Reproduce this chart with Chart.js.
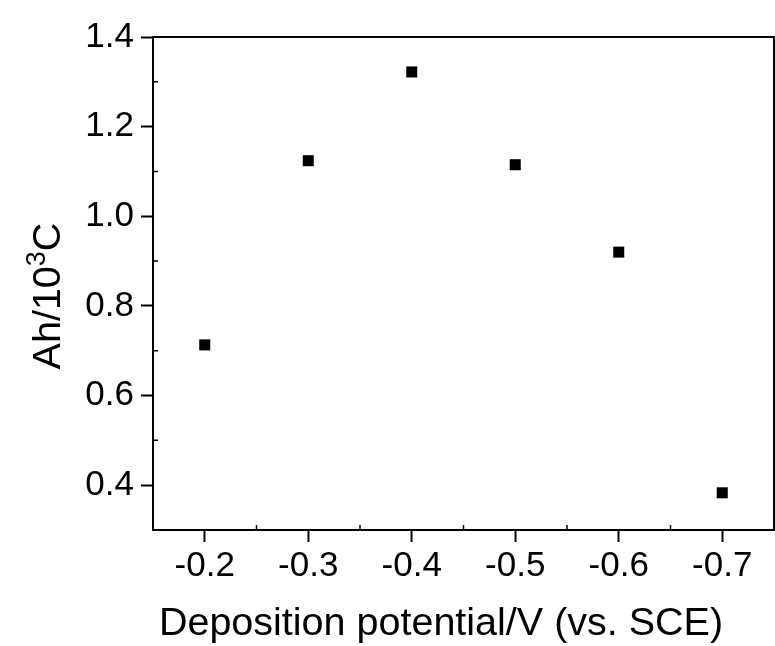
<!DOCTYPE html>
<html>
<head>
<meta charset="utf-8">
<script src="https://cdn.jsdelivr.net/npm/chart.js@4/dist/chart.umd.min.js"></script>
<style>
  html, body { margin: 0; padding: 0; background: #fff; }
  #wrap { width: 775px; height: 646px; }
</style>
</head>
<body>
<div id="wrap"><canvas id="c" width="775" height="646"></canvas></div>
<script>
// Data
const potentials = [-0.2, -0.3, -0.4, -0.5, -0.6, -0.7];
const ahValues = [0.713, 1.124, 1.322, 1.115, 0.920, 0.383];
const xTickValues = [-0.2, -0.3, -0.4, -0.5, -0.6, -0.7];
const yTickValues = [0.4, 0.6, 0.8, 1.0, 1.2, 1.4];
const xMinorValues = [-0.15, -0.25, -0.35, -0.45, -0.55, -0.65, -0.75];
const yMinorValues = [0.3, 0.5, 0.7, 0.9, 1.1, 1.3];
const xTitle = 'Deposition potential/V (vs. SCE)';
const yTitleParts = ['Ah/10', '3', 'C'];

const FONT = "'Liberation Sans', Arial, sans-serif";

const framePlugin = {
  id: 'frame',
  afterDraw(chart) {
    const ctx = chart.ctx;
    const a = chart.chartArea;
    const xs = chart.scales.x, ys = chart.scales.y;
    ctx.save();
    ctx.strokeStyle = '#000';
    ctx.lineWidth = 2;
    ctx.beginPath();
    ctx.moveTo(a.left - 1, a.top);
    ctx.lineTo(a.right, a.top);
    ctx.lineTo(a.right, a.bottom + 1);
    ctx.stroke();
    // minor ticks (inward)
    ctx.lineWidth = 1.5;
    ctx.beginPath();
    xMinorValues.forEach(v => {
      const px = xs.getPixelForValue(v);
      if (px > a.left + 2 && px < a.right - 2) {
        ctx.moveTo(px, a.bottom);
        ctx.lineTo(px, a.bottom - 5);
      }
    });
    yMinorValues.forEach(v => {
      const py = ys.getPixelForValue(v);
      if (py > a.top + 2 && py < a.bottom - 2) {
        ctx.moveTo(a.left, py);
        ctx.lineTo(a.left + 5, py);
      }
    });
    ctx.stroke();
    // titles
    ctx.fillStyle = '#000';
    ctx.font = '39.5px ' + FONT;
    ctx.textAlign = 'center';
    ctx.textBaseline = 'alphabetic';
    ctx.fillText(xTitle, 441, 635);

    ctx.translate(60, 296);
    ctx.rotate(-Math.PI / 2);
    ctx.textAlign = 'left';
    const bigFont = '39.5px ' + FONT, supFont = '27px ' + FONT;
    ctx.font = bigFont;
    const w0 = ctx.measureText(yTitleParts[0]).width;
    const w2 = ctx.measureText(yTitleParts[2]).width;
    ctx.font = supFont;
    const w1 = ctx.measureText(yTitleParts[1]).width;
    let x = -(w0 + w1 + w2) / 2;
    ctx.font = bigFont;
    ctx.fillText(yTitleParts[0], x, 0);
    x += w0;
    ctx.font = supFont;
    ctx.fillText(yTitleParts[1], x, -15);
    x += w1;
    ctx.font = bigFont;
    ctx.fillText(yTitleParts[2], x, 0);
    ctx.restore();
  }
};

new Chart(document.getElementById('c'), {
  type: 'scatter',
  data: {
    datasets: [{
      data: potentials.map((p, i) => ({ x: p, y: ahValues[i] })),
      pointStyle: 'rect',
      pointRadius: 7.8,
      pointHoverRadius: 7.8,
      pointBorderWidth: 0,
      backgroundColor: '#000',
      borderColor: '#000',
      showLine: false
    }]
  },
  options: {
    responsive: false,
    animation: false,
    events: [],
    layout: { autoPadding: false, padding: { top: 37, right: 1, left: 0, bottom: 0 } },
    plugins: { legend: { display: false }, tooltip: { enabled: false } },
    scales: {
      x: {
        type: 'linear',
        reverse: true,
        min: -0.75,
        max: -0.15,
        afterBuildTicks: s => { s.ticks = xTickValues.map(v => ({ value: v })); },
        afterFit: s => { s.height = 116; s.paddingLeft = 0; s.paddingRight = 0; },
        grid: { display: true, drawOnChartArea: false, drawTicks: true, tickLength: 12, tickWidth: 2, tickColor: '#000' },
        border: { display: true, color: '#000', width: 2 },
        ticks: {
          color: '#000',
          font: { family: FONT, size: 35 },
          padding: 3,
          maxRotation: 0,
          autoSkip: false,
          callback: v => v.toFixed(1)
        },
        title: { display: false }
      },
      y: {
        type: 'linear',
        min: 0.3,
        max: 1.4,
        afterBuildTicks: s => { s.ticks = yTickValues.map(v => ({ value: v })); },
        afterFit: s => { s.width = 153; s.paddingTop = 0; s.paddingBottom = 0; },
        grid: { display: true, drawOnChartArea: false, drawTicks: true, tickLength: 12, tickWidth: 2, tickColor: '#000' },
        border: { display: true, color: '#000', width: 2 },
        ticks: {
          color: '#000',
          font: { family: FONT, size: 35 },
          padding: 7,
          autoSkip: false,
          callback: v => v.toFixed(1)
        },
        title: { display: false }
      }
    }
  },
  plugins: [framePlugin]
});
</script>
</body>
</html>
